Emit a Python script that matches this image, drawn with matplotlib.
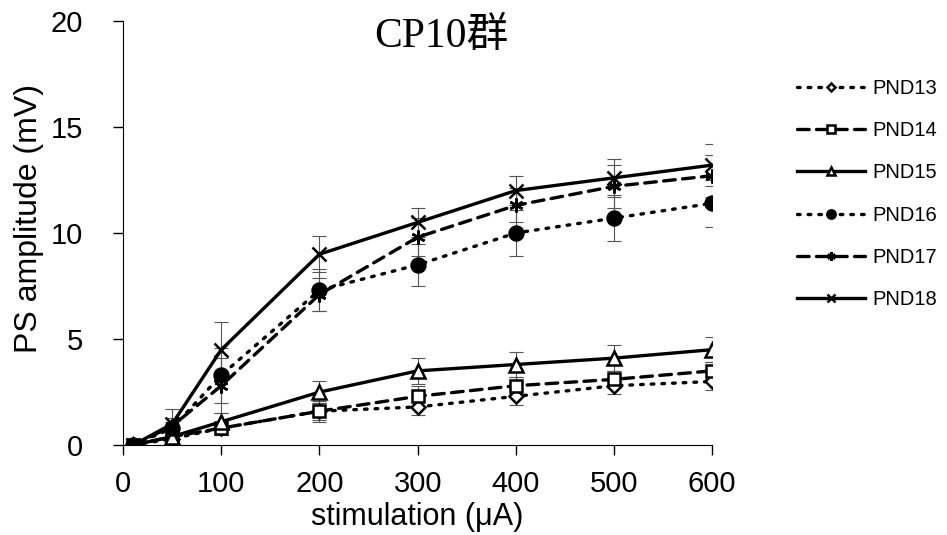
import matplotlib.pyplot as plt

# stimulation intensity (uA)
stim = [10, 50, 100, 200, 300, 400, 500, 600]

# PS amplitude (mV) per group
pnd13 = [0, 0.3, 0.8, 1.6, 1.8, 2.3, 2.8, 3.0]
pnd14 = [0, 0.4, 0.8, 1.6, 2.3, 2.8, 3.1, 3.5]
pnd15 = [0, 0.4, 1.1, 2.5, 3.5, 3.8, 4.1, 4.5]
pnd16 = [0, 0.8, 3.3, 7.3, 8.5, 10.0, 10.7, 11.4]
pnd17 = [0, 0.9, 2.8, 7.1, 9.8, 11.3, 12.2, 12.7]
pnd18 = [0, 1.0, 4.5, 9.0, 10.5, 12.0, 12.6, 13.2]

# error bars (SE)
err13 = [0, 0.1, 0.3, 0.4, 0.4, 0.4, 0.4, 0.4]
err14 = [0, 0.1, 0.3, 0.5, 0.5, 0.4, 0.4, 0.4]
err15 = [0, 0.1, 0.4, 0.5, 0.6, 0.6, 0.6, 0.6]
err16 = [0, 0.3, 1.3, 1.0, 1.0, 1.1, 1.1, 1.1]
err17 = [0, 0.4, 1.3, 0.8, 0.9, 0.8, 1.0, 1.0]
err18 = [0, 0.7, 1.3, 0.85, 0.7, 0.7, 0.9, 1.0]

labels = ["PND13", "PND14", "PND15", "PND16", "PND17", "PND18"]

dotted = (0, (0.8, 2.4))
dashed = (0, (3.5, 2.2))
series = [
    (pnd13, err13, dotted, "D", "white", 7),
    (pnd14, err14, dashed, "s", "white", 9),
    (pnd15, err15, "-", "^", "white", 10),
    (pnd16, err16, dotted, "o", "black", 10),
    (pnd17, err17, dashed, (6, 2, 0), "black", 10),
    (pnd18, err18, "-", "x", "black", 10),
]

fig = plt.figure(figsize=(9.47, 5.35), dpi=100)
ax = fig.add_axes([0.130, 0.168, 0.622, 0.793])

for (vals, err, ls, mk, fc, ms), lab in zip(series, labels):
    ax.errorbar(stim, vals, yerr=err, fmt="none", ecolor="#555555",
                elinewidth=0.8, capsize=5, capthick=0.8, zorder=1)
    ax.plot(stim, vals, linestyle=ls, color="black", lw=2.4,
            dash_capstyle="round", marker=mk, markersize=ms,
            markerfacecolor=fc, markeredgecolor="black", markeredgewidth=1.8,
            label=lab, zorder=3)

ax.set_xlim(0, 600)
ax.set_ylim(0, 20)
ax.set_xticks(range(0, 700, 100))
ax.set_yticks([0, 5, 10, 15, 20])
ax.spines["top"].set_visible(False)
ax.spines["right"].set_visible(False)
ax.tick_params(direction="out", length=7, width=1, labelsize=21)
ax.tick_params(axis="y", pad=22)
ax.tick_params(axis="x", pad=11)
for lbl in ax.get_xticklabels() + ax.get_yticklabels():
    lbl.set_family("Liberation Sans")

ax.set_xlabel("stimulation (μA)", fontsize=22, family="Liberation Sans")
ax.xaxis.set_label_coords(0.5, -0.135)
ax.set_ylabel("PS amplitude (mV)", fontsize=23, family="Liberation Sans")
ax.yaxis.set_label_coords(-0.134, 0.533)

ax.text(0.540, 0.962, "CP10群", transform=ax.transAxes, ha="center", va="center",
        fontsize=30, family=["Liberation Serif", "Noto Sans CJK JP"])

leg = fig.legend(loc="upper left", bbox_to_anchor=(0.822, 0.886), frameon=False,
                 handlelength=3.4, labelspacing=1.15, handletextpad=0.35,
                 prop={"family": "Liberation Sans", "size": 14.5}, markerscale=0.6)

fig.savefig("out.png", dpi=100)
